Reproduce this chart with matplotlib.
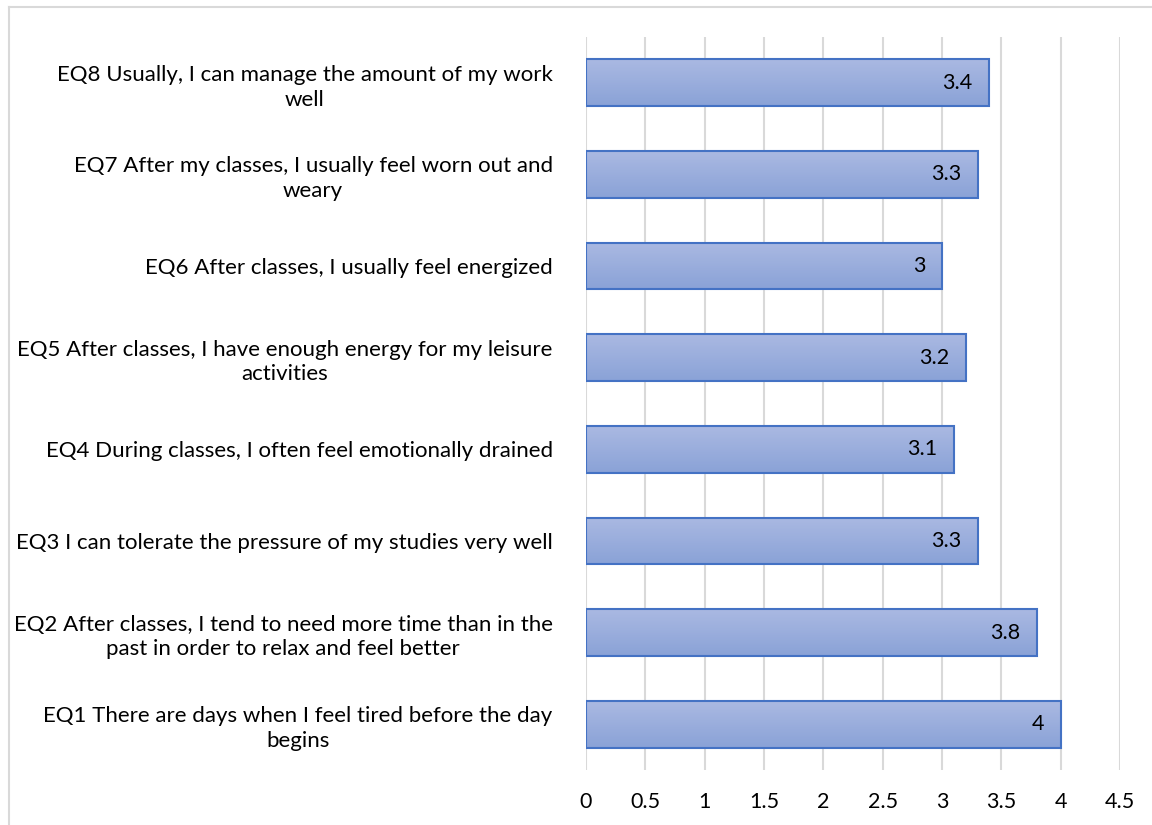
import numpy as np
import matplotlib
matplotlib.use('Agg')
import matplotlib.pyplot as plt
from matplotlib.lines import Line2D

# Survey items (bottom to top) and mean scores
items = [
    'EQ1 There are days when I feel tired before the day\nbegins',
    'EQ2 After classes, I tend to need more time than in the\npast in order to relax and feel better',
    'EQ3 I can tolerate the pressure of my studies very well',
    'EQ4 During classes, I often feel emotionally drained',
    'EQ5 After classes, I have enough energy for my leisure\nactivities',
    'EQ6 After classes, I usually feel energized',
    'EQ7 After my classes, I usually feel worn out and\nweary',
    'EQ8 Usually, I can manage the amount of my work\nwell',
]
scores = [4, 3.8, 3.3, 3.1, 3.2, 3, 3.3, 3.4]
value_labels = ['4', '3.8', '3.3', '3.1', '3.2', '3', '3.3', '3.4']
x_ticks = [0, 0.5, 1, 1.5, 2, 2.5, 3, 3.5, 4, 4.5]
x_ticklabels = ['0', '0.5', '1', '1.5', '2', '2.5', '3', '3.5', '4', '4.5']

plt.rcParams['font.family'] = ['Lato', 'DejaVu Sans']

fig = plt.figure(figsize=(11.52, 8.25), dpi=100)
ax = fig.add_axes([0.5087, 0.0667, 0.4635, 0.8885])

y = np.arange(len(items))
bars = ax.barh(y, scores, height=0.51, color='none', edgecolor='#4472C4',
               linewidth=1.5, zorder=3)

# Vertical gradient fill inside each bar
grad = np.linspace(0, 1, 64).reshape(-1, 1)
cmap = matplotlib.colors.LinearSegmentedColormap.from_list('bar', ['#8AA2D7', '#AAB9E2'])
for b in bars:
    x0, y0 = b.get_x(), b.get_y()
    ax.imshow(grad, extent=[x0, x0 + b.get_width(), y0, y0 + b.get_height()],
              origin='lower', cmap=cmap, aspect='auto', zorder=2)

for b, lab in zip(bars, value_labels):
    ax.text(b.get_width() - 0.14, b.get_y() + b.get_height() / 2, lab,
            ha='right', va='center', fontsize=15.5, color='#000000', zorder=4)

ax.set_xlim(0, 4.5)
ax.set_ylim(-0.5, len(items) - 0.5)
ax.set_xticks(x_ticks)
ax.set_xticklabels(x_ticklabels, fontsize=15.5)
ax.set_yticks(y)
ax.set_yticklabels(items, fontsize=16, multialignment='center', linespacing=1.3)
ax.tick_params(axis='both', length=0)
ax.tick_params(axis='x', pad=16)
ax.tick_params(axis='y', pad=24)
ax.grid(axis='x', color='#D9D9D9', linewidth=1.5, zorder=0)
for s in ax.spines.values():
    s.set_visible(False)

# Chart frame (partly outside the image)
fig.add_artist(Line2D([9 / 1152, 9 / 1152], [0, 1 - 7 / 825], color='#D9D9D9', lw=1.5))
fig.add_artist(Line2D([9 / 1152, 1], [1 - 7 / 825, 1 - 7 / 825], color='#D9D9D9', lw=1.5))

fig.savefig('out.png', dpi=100)
